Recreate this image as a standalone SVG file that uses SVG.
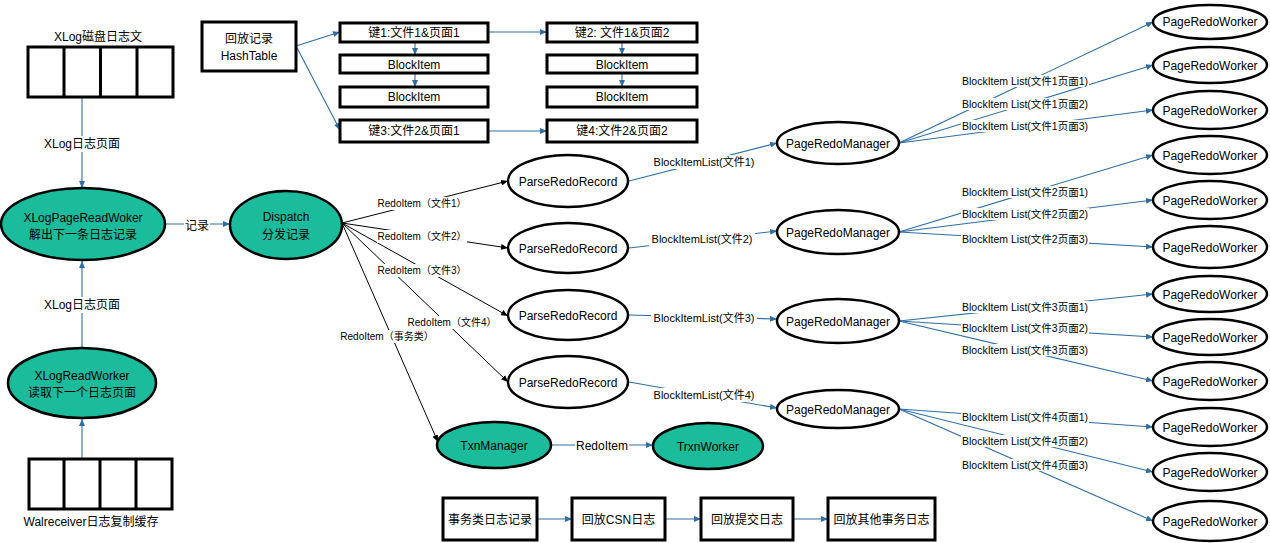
<svg xmlns="http://www.w3.org/2000/svg" width="1270" height="543" viewBox="0 0 1270 543">
<style>
text{font-family:"Liberation Sans","Noto Sans CJK SC",sans-serif;fill:#000;}
.t12{font-size:12px;text-anchor:middle;}
.t10{font-size:10px;text-anchor:middle;}
.t11{font-size:11px;text-anchor:middle;}
.tl{font-size:10.5px;text-anchor:start;}
.box{fill:#fff;stroke:#000;stroke-width:3;}
.ell{fill:#fff;stroke:#000;stroke-width:2.5;}
.teal{fill:#1ABC9C;stroke:#000;stroke-width:2.5;}
.b{stroke:#2E6EA6;stroke-width:1.1;fill:none;marker-end:url(#ab);}
.k{stroke:#000;stroke-width:1;fill:none;marker-end:url(#ak);}
.bg{fill:#fff;}
</style>
<defs>
<marker id="ab" markerWidth="7" markerHeight="6" refX="7" refY="3" orient="auto" markerUnits="userSpaceOnUse"><path d="M0,0 L7,3 L0,6 z" fill="#2E6EA6"/></marker>
<marker id="ak" markerWidth="7" markerHeight="6" refX="7" refY="3" orient="auto" markerUnits="userSpaceOnUse"><path d="M0,0 L7,3 L0,6 z" fill="#000"/></marker>
</defs>
<rect width="1270" height="543" fill="#fff"/>

<g id="connectors">
<!-- left column -->
<line class="b" x1="82" y1="97" x2="82" y2="188"/>
<line class="b" x1="165" y1="224" x2="230" y2="224"/>
<line class="b" x1="82" y1="348" x2="82" y2="261"/>
<line class="b" x1="82" y1="459" x2="82" y2="419"/>
<!-- hashtable -->
<line class="b" x1="296" y1="46" x2="340" y2="32"/>
<line class="b" x1="296" y1="46" x2="340" y2="130"/>
<line class="b" x1="415" y1="42" x2="415" y2="55"/>
<line class="b" x1="415" y1="73" x2="415" y2="87"/>
<line class="b" x1="622" y1="42" x2="622" y2="55"/>
<line class="b" x1="622" y1="73" x2="622" y2="87"/>
<line class="b" x1="488" y1="32" x2="547" y2="32"/>
<line class="b" x1="488" y1="131" x2="547" y2="131"/>
<!-- dispatch -->
<line class="k" x1="342" y1="223" x2="508" y2="181"/>
<line class="k" x1="342" y1="223" x2="508" y2="248"/>
<line class="k" x1="342" y1="223" x2="508" y2="316"/>
<line class="k" x1="342" y1="223" x2="508" y2="382"/>
<line class="k" x1="342" y1="223" x2="438" y2="442"/>
<!-- parse to manager -->
<line class="b" x1="629" y1="181" x2="777" y2="143"/>
<line class="b" x1="629" y1="248" x2="777" y2="231"/>
<line class="b" x1="629" y1="315" x2="777" y2="319"/>
<line class="b" x1="629" y1="382" x2="777" y2="408"/>
<!-- manager to workers -->
<line class="b" x1="899" y1="143" x2="1153" y2="22"/>
<line class="b" x1="899" y1="143" x2="1153" y2="65"/>
<line class="b" x1="899" y1="143" x2="1153" y2="110"/>
<line class="b" x1="899" y1="232" x2="1153" y2="155"/>
<line class="b" x1="899" y1="232" x2="1153" y2="200"/>
<line class="b" x1="899" y1="232" x2="1153" y2="247"/>
<line class="b" x1="899" y1="321" x2="1153" y2="294"/>
<line class="b" x1="899" y1="321" x2="1153" y2="337"/>
<line class="b" x1="899" y1="321" x2="1153" y2="381"/>
<line class="b" x1="899" y1="409" x2="1153" y2="427"/>
<line class="b" x1="899" y1="409" x2="1153" y2="472"/>
<line class="b" x1="899" y1="409" x2="1153" y2="521"/>
<!-- txn -->
<line class="b" x1="552" y1="445" x2="653" y2="445"/>
<line class="b" x1="537" y1="519" x2="572" y2="519"/>
<line class="b" x1="665" y1="519" x2="701" y2="519"/>
<line class="b" x1="793" y1="519" x2="828" y2="519"/>

<!-- labels -->
<rect class="bg" x="43" y="136" width="78" height="16"/>
<text class="t12" x="82" y="148">XLog日志页面</text>
<rect class="bg" x="43" y="297" width="78" height="16"/>
<text class="t12" x="82" y="309">XLog日志页面</text>
<rect class="bg" x="184" y="218" width="26" height="15"/>
<text class="t12" x="197" y="230">记录</text>

<rect class="bg" x="377" y="197" width="90" height="13"/>
<text class="t10" x="422" y="207">RedoItem（文件1）</text>
<rect class="bg" x="377" y="230" width="90" height="13"/>
<text class="t10" x="422" y="240">RedoItem（文件2）</text>
<rect class="bg" x="377" y="264" width="90" height="13"/>
<text class="t10" x="422" y="274">RedoItem（文件3）</text>
<rect class="bg" x="407" y="316" width="90" height="13"/>
<text class="t10" x="452" y="326">RedoItem（文件4）</text>
<rect class="bg" x="339" y="330" width="96" height="13"/>
<text class="t10" x="387" y="340">RedoItem（事务类）</text>

<rect class="bg" x="651" y="155" width="106" height="14"/>
<text class="t11" x="704" y="166">BlockItemList(文件1)</text>
<rect class="bg" x="649" y="232" width="106" height="14"/>
<text class="t11" x="702" y="243">BlockItemList(文件2)</text>
<rect class="bg" x="651" y="311" width="106" height="14"/>
<text class="t11" x="704" y="322">BlockItemList(文件3)</text>
<rect class="bg" x="651" y="388" width="106" height="14"/>
<text class="t11" x="704" y="399">BlockItemList(文件4)</text>

<rect class="bg" x="575" y="438" width="54" height="15"/>
<text class="t12" x="602" y="449.5">RedoItem</text>

<g class="wl">
<rect class="bg" x="961" y="75" width="128" height="12"/>
<text class="tl" x="962" y="85">BlockItem List(文件1页面1)</text>
<rect class="bg" x="961" y="98" width="128" height="12"/>
<text class="tl" x="962" y="108">BlockItem List(文件1页面2)</text>
<rect class="bg" x="961" y="120" width="128" height="12"/>
<text class="tl" x="962" y="130">BlockItem List(文件1页面3)</text>
<rect class="bg" x="961" y="186" width="128" height="12"/>
<text class="tl" x="962" y="196">BlockItem List(文件2页面1)</text>
<rect class="bg" x="961" y="208" width="128" height="12"/>
<text class="tl" x="962" y="218">BlockItem List(文件2页面2)</text>
<rect class="bg" x="961" y="233" width="128" height="12"/>
<text class="tl" x="962" y="243">BlockItem List(文件2页面3)</text>
<rect class="bg" x="961" y="301" width="128" height="12"/>
<text class="tl" x="962" y="311">BlockItem List(文件3页面1)</text>
<rect class="bg" x="961" y="322" width="128" height="12"/>
<text class="tl" x="962" y="332">BlockItem List(文件3页面2)</text>
<rect class="bg" x="961" y="344" width="128" height="12"/>
<text class="tl" x="962" y="354">BlockItem List(文件3页面3)</text>
<rect class="bg" x="961" y="411" width="128" height="12"/>
<text class="tl" x="962" y="421">BlockItem List(文件4页面1)</text>
<rect class="bg" x="961" y="435" width="128" height="12"/>
<text class="tl" x="962" y="445">BlockItem List(文件4页面2)</text>
<rect class="bg" x="961" y="459" width="128" height="12"/>
<text class="tl" x="962" y="469">BlockItem List(文件4页面3)</text>
</g>
</g>

<!-- left column nodes -->
<g id="disk-buffer">
<text class="t12" x="98" y="41">XLog磁盘日志文</text>
<rect class="box" x="28" y="47" width="145" height="50"/>
<line x1="64" y1="47" x2="64" y2="97" stroke="#000" stroke-width="3"/>
<line x1="100.5" y1="47" x2="100.5" y2="97" stroke="#000" stroke-width="3"/>
<line x1="137" y1="47" x2="137" y2="97" stroke="#000" stroke-width="3"/>
</g>
<g id="xlogpagereadworker">
<ellipse class="teal" cx="83" cy="224" rx="82" ry="36"/>
<text class="t12" x="83" y="222">XLogPageReadWoker</text>
<text class="t12" x="83" y="239">解出下一条日志记录</text>
</g>
<g id="dispatch">
<ellipse class="teal" cx="286" cy="225" rx="56" ry="34"/>
<text class="t12" x="286" y="221">Dispatch</text>
<text class="t12" x="286" y="239">分发记录</text>
</g>
<g id="xlogreadworker">
<ellipse class="teal" cx="82" cy="383" rx="74" ry="35"/>
<text class="t12" x="82" y="380">XLogReadWorker</text>
<text class="t12" x="82" y="397">读取下一个日志页面</text>
</g>
<g id="wal-buffer">
<rect class="box" x="29" y="459" width="143" height="50"/>
<line x1="64" y1="459" x2="64" y2="509" stroke="#000" stroke-width="3"/>
<line x1="100" y1="459" x2="100" y2="509" stroke="#000" stroke-width="3"/>
<line x1="136" y1="459" x2="136" y2="509" stroke="#000" stroke-width="3"/>
<text class="t12" x="91" y="526">Walreceiver日志复制缓存</text>
</g>

<!-- hashtable -->
<g id="hashtable">
<rect class="box" x="202" y="22" width="94" height="49"/>
<text class="t12" x="249" y="43">回放记录</text>
<text class="t12" x="249" y="60">HashTable</text>
</g>
<g id="key1"><rect class="box" x="340" y="23" width="148" height="19"/><text class="t12" x="414" y="37">键1:文件1&amp;页面1</text></g>
<g id="blk1a"><rect class="box" x="340" y="55" width="148" height="18"/><text class="t12" x="414" y="69">BlockItem</text></g>
<g id="blk1b"><rect class="box" x="340" y="87" width="148" height="20"/><text class="t12" x="414" y="101">BlockItem</text></g>
<g id="key3"><rect class="box" x="340" y="120" width="148" height="22"/><text class="t12" x="414" y="135">键3:文件2&amp;页面1</text></g>
<g id="key2"><rect class="box" x="547" y="23" width="150" height="19"/><text class="t12" x="622" y="37">键2: 文件1&amp;页面2</text></g>
<g id="blk2a"><rect class="box" x="547" y="55" width="150" height="18"/><text class="t12" x="622" y="69">BlockItem</text></g>
<g id="blk2b"><rect class="box" x="547" y="87" width="150" height="20"/><text class="t12" x="622" y="101">BlockItem</text></g>
<g id="key4"><rect class="box" x="547" y="120" width="150" height="22"/><text class="t12" x="622" y="135">键4:文件2&amp;页面2</text></g>

<!-- parse -->
<g id="prr1"><ellipse class="ell" cx="568" cy="181" rx="60" ry="26"/><text class="t12" x="568" y="185.5">ParseRedoRecord</text></g>
<g id="prr2"><ellipse class="ell" cx="568" cy="248" rx="60" ry="25"/><text class="t12" x="568" y="252.5">ParseRedoRecord</text></g>
<g id="prr3"><ellipse class="ell" cx="568" cy="315" rx="60" ry="25"/><text class="t12" x="568" y="319.5">ParseRedoRecord</text></g>
<g id="prr4"><ellipse class="ell" cx="568" cy="382" rx="60" ry="26"/><text class="t12" x="568" y="386.5">ParseRedoRecord</text></g>

<!-- managers -->
<g id="prm1"><ellipse class="ell" cx="838" cy="143" rx="61" ry="21"/><text class="t12" x="838" y="147.5">PageRedoManager</text></g>
<g id="prm2"><ellipse class="ell" cx="838" cy="232" rx="61" ry="22"/><text class="t12" x="838" y="236.5">PageRedoManager</text></g>
<g id="prm3"><ellipse class="ell" cx="838" cy="321" rx="61" ry="22"/><text class="t12" x="838" y="325.5">PageRedoManager</text></g>
<g id="prm4"><ellipse class="ell" cx="838" cy="409" rx="61" ry="19"/><text class="t12" x="838" y="413.5">PageRedoManager</text></g>

<!-- workers -->
<g id="w1"><ellipse class="ell" cx="1210" cy="22" rx="57" ry="17"/><text class="t12" x="1210" y="26">PageRedoWorker</text></g>
<g id="w2"><ellipse class="ell" cx="1210" cy="65" rx="57" ry="18"/><text class="t12" x="1210" y="69.5">PageRedoWorker</text></g>
<g id="w3"><ellipse class="ell" cx="1210" cy="110" rx="57" ry="19"/><text class="t12" x="1210" y="114.5">PageRedoWorker</text></g>
<g id="w4"><ellipse class="ell" cx="1210" cy="155" rx="57" ry="19"/><text class="t12" x="1210" y="159.5">PageRedoWorker</text></g>
<g id="w5"><ellipse class="ell" cx="1210" cy="200" rx="57" ry="19"/><text class="t12" x="1210" y="204.5">PageRedoWorker</text></g>
<g id="w6"><ellipse class="ell" cx="1210" cy="247" rx="57" ry="21"/><text class="t12" x="1210" y="251.5">PageRedoWorker</text></g>
<g id="w7"><ellipse class="ell" cx="1210" cy="294" rx="57" ry="18"/><text class="t12" x="1210" y="298.5">PageRedoWorker</text></g>
<g id="w8"><ellipse class="ell" cx="1210" cy="337" rx="57" ry="18"/><text class="t12" x="1210" y="341.5">PageRedoWorker</text></g>
<g id="w9"><ellipse class="ell" cx="1210" cy="381" rx="57" ry="19"/><text class="t12" x="1210" y="385.5">PageRedoWorker</text></g>
<g id="w10"><ellipse class="ell" cx="1210" cy="427" rx="57" ry="19"/><text class="t12" x="1210" y="431.5">PageRedoWorker</text></g>
<g id="w11"><ellipse class="ell" cx="1210" cy="472" rx="57" ry="19"/><text class="t12" x="1210" y="476.5">PageRedoWorker</text></g>
<g id="w12"><ellipse class="ell" cx="1210" cy="521" rx="57" ry="20"/><text class="t12" x="1210" y="525.5">PageRedoWorker</text></g>

<!-- txn -->
<g id="txnmanager"><ellipse class="teal" cx="494" cy="445" rx="57" ry="23"/><text class="t12" x="494" y="449.5">TxnManager</text></g>
<g id="trxnworker"><ellipse class="teal" cx="708" cy="446" rx="55" ry="23"/><text class="t12" x="708" y="450.5">TrxnWorker</text></g>

<g id="step1"><rect class="box" x="443" y="498" width="94" height="42"/><text class="t12" x="490" y="523.5">事务类日志记录</text></g>
<g id="step2"><rect class="box" x="572" y="498" width="93" height="42"/><text class="t12" x="618.5" y="523.5">回放CSN日志</text></g>
<g id="step3"><rect class="box" x="701" y="498" width="92" height="42"/><text class="t12" x="747" y="523.5">回放提交日志</text></g>
<g id="step4"><rect class="box" x="828" y="498" width="107" height="42"/><text class="t12" x="881.5" y="523.5">回放其他事务日志</text></g>
</svg>
